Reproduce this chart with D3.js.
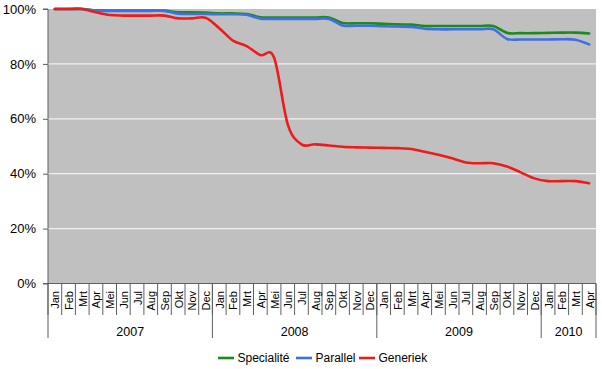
<!DOCTYPE html>
<html><head><meta charset="utf-8">
<script src="https://cdn.jsdelivr.net/npm/d3@7"></script>
<style>body{margin:0;background:#fff}svg{display:block}text{font-family:"Liberation Sans",Arial,sans-serif}</style>
</head><body><svg id="c" width="602" height="369"></svg>
<script>
const monthNames = ["Jan","Feb","Mrt","Apr","Mei","Jun","Jul","Aug","Sep","Okt","Nov","Dec"];
const years = ["2007","2008","2009","2010"];
const yearMonths = [12,12,12,4];
const yTicks = [0,20,40,60,80,100];
const seriesNames = ["Specialité","Parallel","Generiek"];
const specialite = [100,100,100,99.5,99.4,99.4,99.4,99.4,99.4,98.8,98.8,98.7,
  98.4,98.4,98.2,97.0,96.9,96.9,96.9,96.9,96.9,94.9,94.8,94.8,
  94.6,94.4,94.3,93.8,93.8,93.8,93.8,93.8,93.8,91.3,91.2,91.2,
  91.3,91.4,91.4,91.1];
const parallel = [100,100,100,99.4,99.3,99.3,99.3,99.3,99.3,98.3,98.2,98.2,
  98.1,98.1,97.9,96.5,96.4,96.4,96.4,96.4,96.4,94.0,93.9,93.9,
  93.7,93.6,93.5,92.8,92.6,92.6,92.6,92.6,92.6,89.1,88.9,88.9,
  88.9,89.0,88.8,87.1];
const generiek = [100,100,100,98.8,97.8,97.6,97.6,97.6,97.6,96.6,96.6,96.8,
  93.0,88.5,86.5,83.2,82.3,58.0,50.7,50.7,50.3,49.8,49.6,49.5,
  49.4,49.3,49.0,48.0,46.9,45.6,44.1,43.8,43.8,42.6,40.5,38.3,
  37.3,37.3,37.3,36.5];
const colors = ["#1c8a1c","#3f6fe4","#ee1b1b"];

const cats = [];
years.forEach((y,i)=>{for(let m=0;m<yearMonths[i];m++) cats.push(y+"-"+m);});
const monthLabel = k => monthNames[+k.split("-")[1]];

const L=48, R=596, T=9, B=283.5;
const svg = d3.select("#c");
const x = d3.scaleBand().domain(cats).range([L,R]).paddingInner(0).paddingOuter(0);
const y = d3.scaleLinear().domain([0,100]).range([B,T]);

svg.append("rect").attr("x",L).attr("y",T).attr("width",R-L).attr("height",B-T).attr("fill","#c0c0c0");
svg.append("g").selectAll("line").data(yTicks.filter(d=>d>0&&d<100)).join("line")
  .attr("x1",L).attr("x2",R).attr("y1",d=>y(d)).attr("y2",d=>y(d))
  .attr("stroke","#f0f0f0").attr("stroke-width",1.2);

// y axis
const ya = svg.append("g").attr("transform",`translate(${L},0)`)
  .call(d3.axisLeft(y).tickValues(yTicks).tickFormat(d=>d+"%").tickSize(5).tickPadding(7));
ya.select(".domain").attr("stroke","#606060").attr("d",`M-5,${y(100)}H0V${B}H-5`);
ya.selectAll(".tick line").attr("stroke","#606060");
ya.selectAll("text").attr("font-size",13).attr("fill","#000").style("font-family","Liberation Sans, Arial, sans-serif");

// x axis line
svg.append("line").attr("x1",L).attr("x2",R).attr("y1",B).attr("y2",B).attr("stroke","#606060");
// month separators
const bounds = cats.map(c=>x(c)).concat([R]);
svg.append("g").selectAll("line").data(bounds).join("line")
  .attr("x1",d=>d).attr("x2",d=>d).attr("y1",B).attr("y2",315)
  .attr("stroke","#606060");
// month labels
svg.append("g").selectAll("text").data(cats).join("text")
  .attr("transform",d=>`translate(${x(d)+x.bandwidth()/2+0.5},291) rotate(-90)`)
  .attr("text-anchor","end").attr("dominant-baseline","central")
  .attr("font-size",11).attr("fill","#000").text(monthLabel);
// year separators and labels
let idx=0; const yb=[];
years.forEach((yr,i)=>{const s=x(cats[idx]); idx+=yearMonths[i]; const e= idx<cats.length? x(cats[idx]) : R; yb.push({yr,s,e});});
svg.append("g").selectAll("line").data([L].concat(yb.map(d=>d.e))).join("line")
  .attr("x1",d=>d).attr("x2",d=>d).attr("y1",B).attr("y2",338).attr("stroke","#606060");
svg.append("g").selectAll("text").data(yb).join("text")
  .attr("x",d=>(d.s+d.e)/2).attr("y",332).attr("text-anchor","middle").attr("dominant-baseline","central")
  .attr("font-size",12.5).attr("fill","#000").text(d=>d.yr);

// lines
const data = [specialite,parallel,generiek];
const line = d3.line().x((d,i)=>x(cats[i])+x.bandwidth()/2).y(d=>y(d)).curve(d3.curveCatmullRom.alpha(0));
svg.append("g").selectAll("path").data(data).join("path")
  .attr("d",d=>line(d)).attr("fill","none").attr("stroke",(d,i)=>colors[i])
  .attr("stroke-width",2.6).attr("stroke-linejoin","round").attr("stroke-linecap","round");

// legend
const legX = [218,296,359];
const lg = svg.append("g").selectAll("g").data(seriesNames).join("g")
  .attr("transform",(d,i)=>`translate(${legX[i]},358)`);
lg.append("line").attr("x1",0).attr("x2",16).attr("y1",0).attr("y2",0)
  .attr("stroke",(d,i)=>colors[i]).attr("stroke-width",2.6);
lg.append("text").attr("x",19.5).attr("y",0).attr("dominant-baseline","central")
  .attr("font-size",12).attr("fill","#000").text(d=>d);
</script></body></html>
